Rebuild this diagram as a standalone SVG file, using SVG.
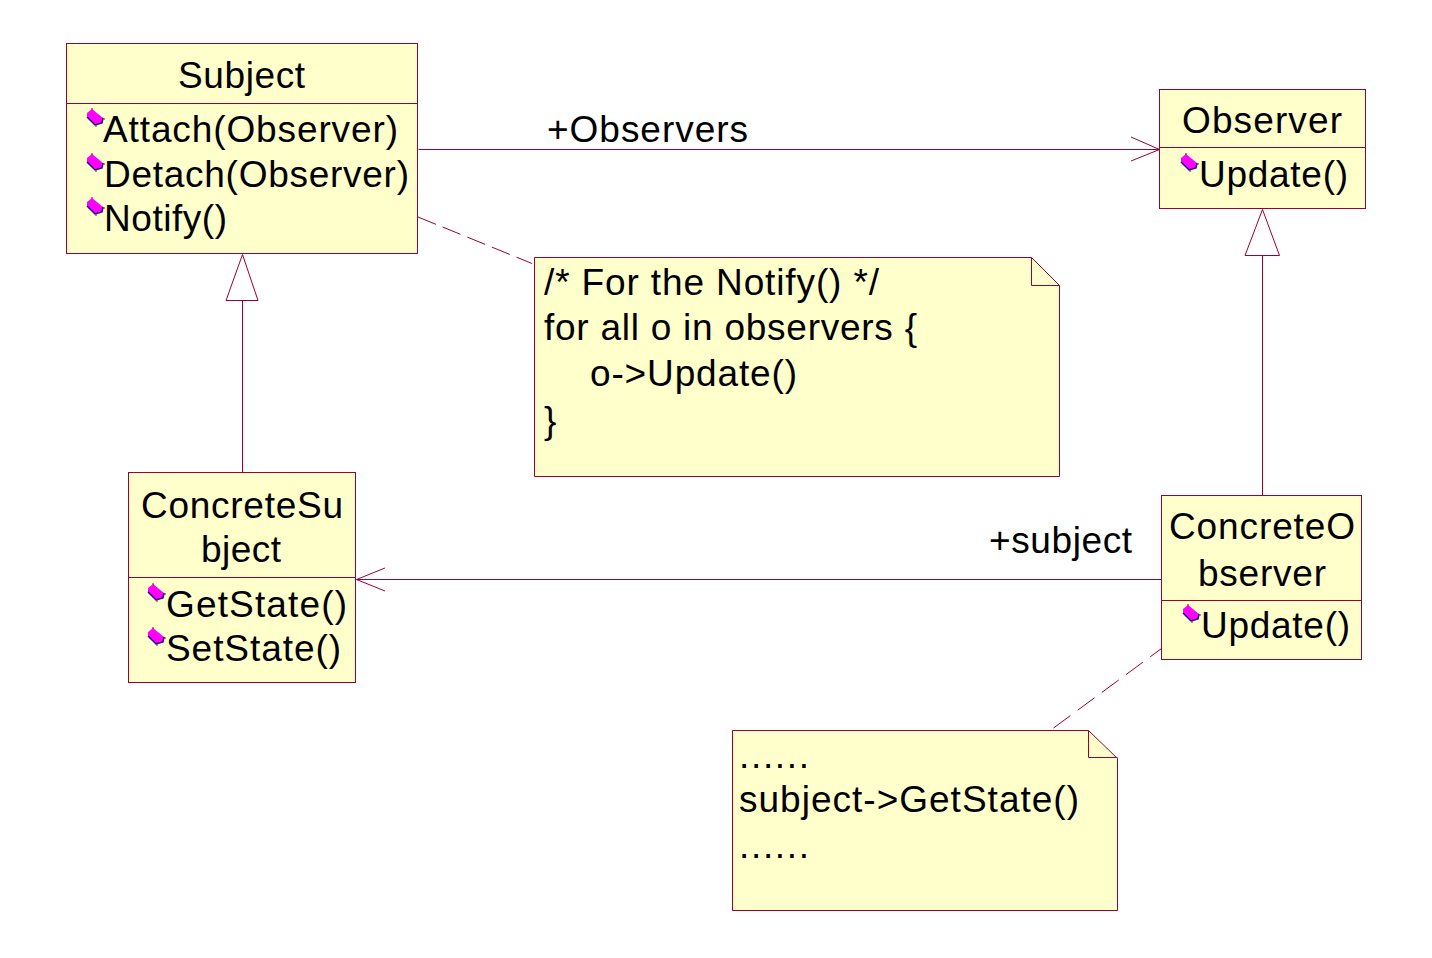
<svg xmlns="http://www.w3.org/2000/svg" width="1432" height="958" viewBox="0 0 1432 958">
<style>
.b{fill:#ffffcb;stroke:#990033;stroke-width:1}
.l{fill:none;stroke:#990033;stroke-width:1}
.d{fill:none;stroke:#990033;stroke-width:1}
.h{fill:#fff;stroke:#990033;stroke-width:1}
text{font-family:"Liberation Sans",Arial,sans-serif;font-size:37px;fill:#000}
</style>
<defs>
<g id="op">
<path d="M0 4L5 0L16 9L15 14L8 16L0 8Z" fill="#ff00ff"/>
<path d="M0 8L8 16L15 14L16 9" fill="none" stroke="#1a0a80" stroke-width="1.500"/>
<path d="M5 -1V1M9 16V18M17 9V11" stroke="#990033" stroke-width="1" fill="none"/>
</g>
</defs>
<rect width="1432" height="958" fill="#fff"/>
<g id="connectors">
<path class="l" d="M418.500 149.500H1160.500M1131 137L1159.500 149.500L1131 161"/>
<path class="l" d="M242.500 472.500V300.500"/>
<path class="h" d="M242.500 254.500L258 300.500H226Z"/>
<path class="l" d="M1262.500 495.500V255.500"/>
<path class="h" d="M1262.500 209.500L1279.500 255.500H1245Z"/>
<path class="l" d="M1161.500 579.500H356.500M385 568L356.500 579.500L385 591"/>
<path class="d" stroke-dasharray="19.300 7.300" d="M418 217L532 263.500"/>
<path class="d" stroke-dasharray="21 9" d="M1053.500 728L1161.500 648.500"/>
</g>
<g id="subject">
<rect class="b" x="66.500" y="43.500" width="351" height="210"/>
<path class="l" d="M66.500 103.500H417.500"/>
<text x="178" y="88" textLength="127">Subject</text>
<use href="#op" x="87" y="109"/><text x="103" y="142" textLength="295">Attach(Observer)</text>
<use href="#op" x="87" y="154"/><text x="104" y="187" textLength="305">Detach(Observer)</text>
<use href="#op" x="87" y="198"/><text x="104" y="231" textLength="123">Notify()</text>
</g>
<g id="observer">
<rect class="b" x="1159.500" y="89.500" width="206" height="119"/>
<path class="l" d="M1159.500 147.500H1365.500"/>
<text x="1182" y="133" textLength="160">Observer</text>
<use href="#op" x="1181" y="154"/><text x="1199" y="187" textLength="149">Update()</text>
</g>
<g id="concrete-subject">
<rect class="b" x="128.500" y="472.500" width="227" height="210"/>
<path class="l" d="M128.500 577.500H355.500"/>
<text x="141" y="518" textLength="202">ConcreteSu</text>
<text x="201" y="562" textLength="80">bject</text>
<use href="#op" x="148" y="584"/><text x="166" y="617" textLength="181">GetState()</text>
<use href="#op" x="148" y="628"/><text x="166" y="661" textLength="175">SetState()</text>
</g>
<g id="concrete-observer">
<rect class="b" x="1161.500" y="495.500" width="200" height="164"/>
<path class="l" d="M1161.500 600.500H1361.500"/>
<text x="1169" y="539" textLength="186">ConcreteO</text>
<text x="1198" y="586" textLength="128">bserver</text>
<use href="#op" x="1183" y="605"/><text x="1201" y="638" textLength="149">Update()</text>
</g>
<g id="note-notify">
<path class="b" d="M534.500 257.500H1031.500L1059.500 285.500V476.500H534.500Z"/>
<path class="l" d="M1031.500 257.500V285.500H1059.500"/>
<text x="544" y="295" textLength="335">/* For the Notify() */</text>
<text x="544" y="340" textLength="373">for all o in observers {</text>
<text x="590" y="386" textLength="207">o-&gt;Update()</text>
<text x="544" y="433">}</text>
</g>
<g id="note-getstate">
<path class="b" d="M732.500 730.500H1088.500L1117.500 758.500V910.500H732.500Z"/>
<path class="l" d="M1088.500 730.500V757.500H1117.500"/>
<text x="739" y="768" textLength="70">......</text>
<text x="739" y="812" textLength="340">subject-&gt;GetState()</text>
<text x="739" y="858" textLength="70">......</text>
</g>
<g id="labels">
<text x="547" y="142" textLength="201">+Observers</text>
<text x="989" y="553" textLength="143">+subject</text>
</g>
</svg>
